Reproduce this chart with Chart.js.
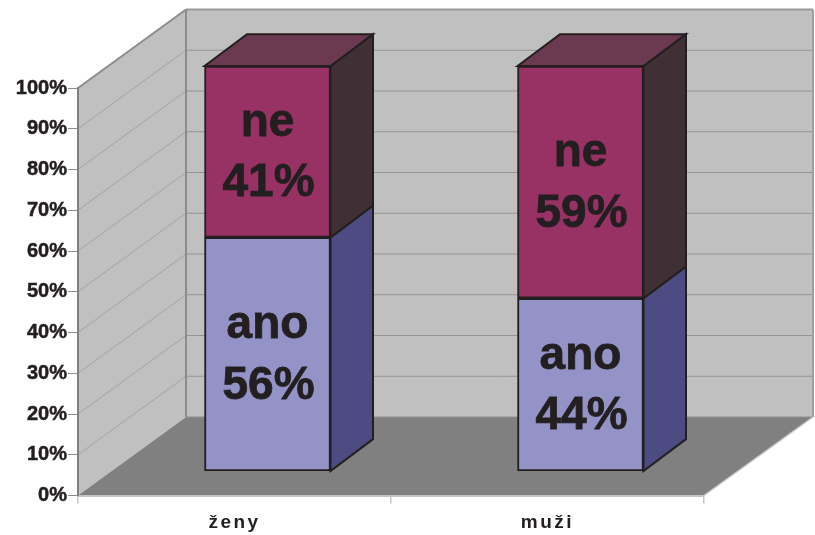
<!DOCTYPE html>
<html>
<head>
<meta charset="utf-8">
<script src="https://cdn.jsdelivr.net/npm/chart.js@4"></script>
<style>html,body{margin:0;padding:0;background:#fff}canvas{display:block}</style>
</head>
<body>
<canvas id="c" width="815" height="535" style="width:815px;height:535px"></canvas>
<script>
const categories = ['ženy', 'muži'];
const seriesNames = ['ano', 'ne'];
const ano = [56, 44];
const ne = [41, 59];
const yTickLabels = ['0%','10%','20%','30%','40%','50%','60%','70%','80%','90%','100%'];

const share = (a, b) => a.map((v, i) => v / (v + b[i]) * 100);
const INK = '#231f20';
const WALL = {dx: 108, dy: -78.5};
const BAR = {dx: 33, baseY: 471.5, scaleY: 405.5 / 407.5, depthX: 42.5, depthY: -32};
const COLORS = [
  {front: '#9393c8', side: '#4c4c82'},
  {front: '#983164', side: '#402f35', top: '#6b3a50'}
];

function poly(ctx, pts, fill, stroke, lw) {
  ctx.beginPath();
  pts.forEach((p, i) => i ? ctx.lineTo(p[0], p[1]) : ctx.moveTo(p[0], p[1]));
  ctx.closePath();
  if (fill) { ctx.fillStyle = fill; ctx.fill(); }
  if (stroke) { ctx.strokeStyle = stroke; ctx.lineWidth = lw; ctx.lineJoin = 'miter'; ctx.stroke(); }
}
function line(ctx, x1, y1, x2, y2, color, lw) {
  ctx.beginPath(); ctx.moveTo(x1, y1); ctx.lineTo(x2, y2);
  ctx.strokeStyle = color; ctx.lineWidth = lw; ctx.stroke();
}

const box3d = {
  id: 'box3d',
  beforeDraw(chart) {
    const {ctx, chartArea: a, scales} = chart;
    const y = scales.y, x = scales.x;
    if (!x.__spaced) {
      x.__spaced = true;
      const orig = x.drawLabels;
      x.drawLabels = function (area) {
        ctx.save(); ctx.letterSpacing = '2.5px'; orig.call(this, area); ctx.restore();
      };
    }
    const l = a.left, r = a.right, t = y.getPixelForValue(100), b = y.getPixelForValue(0);
    const bl = l + WALL.dx, br = r + WALL.dx + 1, bt = t + WALL.dy, bb = b + WALL.dy;
    ctx.save();
    poly(ctx, [[bl, bt], [br, bt], [br, bb], [bl, bb]], '#c0c0c0');
    poly(ctx, [[l, t], [bl, bt], [bl, bb], [l, b]], '#c0c0c0');
    y.ticks.forEach(tk => {
      if (tk.value === 0) return;
      const py = y.getPixelForValue(tk.value);
      if (tk.value < 100) {
        line(ctx, bl, py + WALL.dy, br, py + WALL.dy, '#949494', 1);
        line(ctx, l, py, bl, py + WALL.dy, '#a4a4a4', 1);
      }
    });
    poly(ctx, [[l, b], [bl, bb], [br, bb], [r, b]], '#808080');
    line(ctx, l, t, bl, bt, '#8c8c8c', 2);
    line(ctx, bl, bt, br, bt, '#989898', 2);
    line(ctx, br, bt, br, bb, '#a0a0a0', 2);
    line(ctx, bl, bt, bl, bb, '#8c8c8c', 2);
    line(ctx, bl, bb, br, bb, '#8e8e8e', 1);
    line(ctx, r, b, br, bb, '#c8c8c8', 1.5);
    ctx.restore();
  },
  beforeDatasetsDraw(chart) {
    const {ctx} = chart;
    const b = chart.scales.y.getPixelForValue(0);
    ctx.save();
    ctx.translate(BAR.dx, BAR.baseY);
    ctx.scale(1, BAR.scaleY);
    ctx.translate(0, -b);
  },
  afterDatasetsDraw(chart) {
    const {ctx} = chart;
    const d = {x: BAR.depthX, y: BAR.depthY};
    chart.data.datasets.forEach((ds, di) => {
      chart.getDatasetMeta(di).data.forEach(el => {
        const R = el.x + el.width / 2, L = el.x - el.width / 2;
        poly(ctx, [[R, el.y], [R + d.x, el.y + d.y], [R + d.x, el.base + d.y], [R, el.base]],
          COLORS[di].side, INK, 2);
        if (di === chart.data.datasets.length - 1) {
          poly(ctx, [[L, el.y], [L + d.x, el.y + d.y], [R + d.x, el.y + d.y], [R, el.y]],
            COLORS[di].top, INK, 2);
        }
      });
    });
    ctx.fillStyle = INK;
    ctx.strokeStyle = INK;
    ctx.lineWidth = 0.8;
    ctx.font = 'bold 46px "Liberation Sans", Arial, sans-serif';
    ctx.textAlign = 'center';
    ctx.textBaseline = 'alphabetic';
    const raw = [ano, ne];
    const put = (s, x, y) => { ctx.fillText(s, x, y); ctx.strokeText(s, x, y); };
    chart.data.datasets.forEach((ds, di) => {
      chart.getDatasetMeta(di).data.forEach((el, i) => {
        const mid = (el.y + el.base) / 2;
        put(seriesNames[di], el.x, mid - 16);
        put(raw[di][i] + '%', el.x + 1, mid + 45);
      });
    });
    ctx.restore();
  }
};

new Chart(document.getElementById('c'), {
  type: 'bar',
  data: {
    labels: categories,
    datasets: [
      {label: seriesNames[0], data: share(ano, ne), backgroundColor: COLORS[0].front, borderColor: INK, borderWidth: 2, borderSkipped: false, barThickness: 126},
      {label: seriesNames[1], data: share(ne, ano), backgroundColor: COLORS[1].front, borderColor: INK, borderWidth: 2, borderSkipped: false, barThickness: 126}
    ]
  },
  options: {
    responsive: false,
    animation: false,
    devicePixelRatio: 1,
    layout: {padding: {left: 0, right: 111, top: 88, bottom: 0}},
    plugins: {legend: {display: false}, tooltip: {enabled: false}, title: {display: false}},
    scales: {
      x: {
        stacked: true,
        grid: {drawOnChartArea: false, drawTicks: true, tickLength: 8, color: '#c4c4c4', lineWidth: 1.5},
        border: {display: true, color: '#c4c4c4', width: 2},
        ticks: {color: INK, font: {family: '"Liberation Sans"', weight: 'bold', size: 19}, padding: 8, maxRotation: 0},
        afterFit(s) { s.height = 39.5; s.paddingLeft = 0; s.paddingRight = 0; }
      },
      y: {
        stacked: true,
        min: 0,
        max: 100,
        grid: {drawOnChartArea: false, drawTicks: true, tickLength: 10, color: '#8c8c8c', lineWidth: 1},
        border: {display: true, color: '#808080', width: 2},
        ticks: {
          stepSize: 10,
          color: INK,
          padding: 1,
          textStrokeColor: INK,
          textStrokeWidth: 0.5,
          font: {family: '"Liberation Sans"', weight: 'bold', size: 20},
          callback: (v) => yTickLabels[Math.round(v / 10)]
        },
        afterFit(s) { s.width = 78; s.paddingTop = 0; s.paddingBottom = 0; }
      }
    }
  },
  plugins: [box3d]
});
</script>
</body>
</html>
